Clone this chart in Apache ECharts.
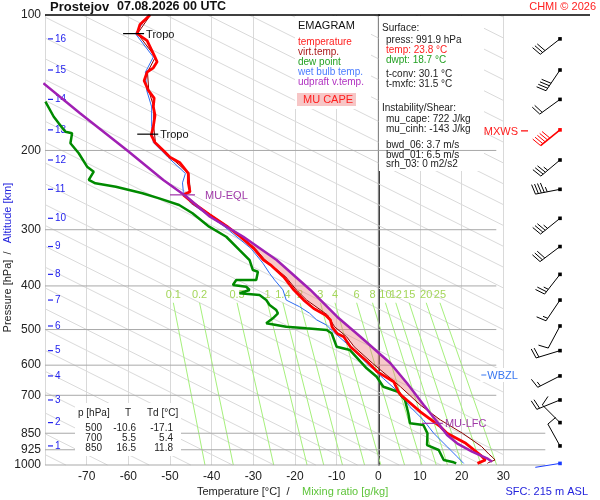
<!DOCTYPE html>
<html><head><meta charset="utf-8">
<script src="https://cdn.jsdelivr.net/npm/echarts@6.0.0/dist/echarts.min.js"></script>
<style>html,body{margin:0;padding:0;background:#fff}#c{width:600px;height:500px}</style>
</head><body><div id="c"></div>
<script>
const FONT = '"Liberation Sans", Arial, sans-serif';

// ---- axes / ticks ----
const pressureTicks = [100, 200, 300, 400, 500, 600, 700, 850, 925, 1000];
const altKm = [1, 2, 3, 4, 5, 6, 7, 8, 9, 10, 11, 12, 13, 14, 15, 16];
const altP = [907, 805, 717, 634, 557, 491, 430, 377, 327, 283, 244, 210, 180, 154, 132.5, 113];

// ---- temperature ----
const tempP = [100,105,110,114,124,127,131,134,140,147,153,160,167,177,185,192,200,207,213,225,236,247,251,262,278,295,311,330,350,359,382,408,430,449,464,476,493,500,510,519,546,589,620,653,687,700,762,822,850,895,950,975,991.9];
const tempT = [-54.8,-57.2,-57.9,-55.5,-53.6,-53.1,-54.0,-55.5,-56.2,-55.2,-53.8,-54.0,-53.6,-54.0,-54.5,-53.6,-51.6,-50.0,-47.6,-45.6,-45.6,-45.2,-46.8,-44.4,-40.4,-36.3,-33.1,-29.9,-27.6,-25.9,-22.7,-20.3,-17.9,-15.5,-12.7,-11.5,-11.1,-10.6,-9.9,-8.3,-6.7,-2.7,-0.3,3.7,4.8,5.5,10.1,14.9,16.5,21.0,24.5,25.7,23.8];

// ---- virtual temperature ----
const virtP = [100,110,124,134,147,160,177,192,207,225,247,251,262,278,295,311,330,350,382,408,430,464,493,519,546,594,670,736,794,850,910,945,965,975,988,991.9];
const virtT = [-54.7,-57.8,-53.5,-55.4,-55.1,-53.9,-53.9,-53.5,-49.9,-45.5,-45.1,-46.7,-44.2,-40.2,-36.1,-32.9,-29.6,-27.2,-22.2,-19.7,-17.2,-12.2,-10.5,-7.6,-5.8,-1.4,5.3,10.1,14.9,20.2,24.8,26.5,27.6,28.0,26.4,26.2];

// ---- dew point ----
const dwP = [155.8,168.3,174.1,181.7,183.2,192.8,202.9,217.3,222.9,232.6,236.6,240.8,249,255.5,264.4,275.8,295.4,311,333,350.4,368.8,371.9,388,388.1,398,401.7,408.4,415.4,419,429.9,441,452.5,460.2,472,484.3,492.8,497,501,509.7,546,555.3,609.7,636.5,669.9,687.3,700,717,767.6,807.9,815,850,903,926,974.8,986.3,991.9];
const dwT = [-79.9,-77.9,-76.7,-75.1,-73.5,-73.9,-71.9,-69.9,-68.3,-69.5,-67.9,-63.0,-56.6,-52.6,-47.8,-44.6,-40.6,-36.5,-33.3,-30.9,-30.1,-28.9,-29.3,-34.1,-34.9,-31.7,-30.9,-33.3,-28.5,-26.9,-26.1,-24.5,-24.1,-25.3,-26.9,-22.1,-17.3,-12.4,-11.2,-10.0,-6.8,-2.8,-0.4,1.2,4.7,5.4,6.4,7.2,7.6,10.8,11.8,11.7,14.5,15.7,18.1,18.7];

// ---- wet bulb ----
const wbP = [100,110,124,134,147,160,177,192,207,225,236,247,262,295,330,356,375,388,408,430,445,460,476,489,506,537,594,642,693,742,794,850,910,958,991.9];
const wbT = [-55.2,-58.3,-54.0,-55.9,-55.6,-54.4,-54.4,-54.0,-50.5,-46.3,-47.0,-46.8,-45.0,-37.0,-30.6,-27.7,-26.1,-24.9,-22.9,-22.1,-18.9,-16.5,-14.8,-12.4,-10.8,-7.6,-2.8,1.2,5.2,7.6,10.8,13.3,16.5,18.9,20.5];

// ---- MU parcel (updraft virtual temperature) ----
const parcelP = [141.8,165.3,199.5,232.6,253.4,280.7,311,350.4,408.4,468.2,518.7,594.3,658.3,735.7,801.4,857.8,894.9,934,966.2,983.3];
const parcelT = [-80.4,-71.6,-60.4,-51.6,-46.0,-40.4,-32.4,-24.4,-16.3,-9.9,-4.3,2.9,6.9,10.9,14.1,16.5,18.9,22.5,26.1,27.3];

// ---- levels ----
const eqlP = 251, eqlT = -46.4;
const lfcP = 808, lfcT = 14.3;
const tropoP = [110, 184];
const tropoT = [-57.9, -54.5];
const wbzlP = 631;

// ---- mixing ratio lines (g/kg), temperatures read at 436 hPa and 1000 hPa ----
const mixW = [0.1, 0.2, 0.5, 1, 1.4, 2, 3, 4, 6, 8, 10, 12, 15, 20, 25];
const mixTopT = [-49.2,-42.9,-33.9,-26.6,-22.9,-18.8,-13.9,-10.4,-5.2,-1.4,1.7,4.2,7.4,11.5,14.8];
const mixBotT = [-41.6,-34.8,-25.1,-17.1,-13.1,-8.6,-3.3,0.6,6.3,10.5,13.9,16.6,20.1,24.7,28.4];
const mixTopP = 436;

// ---- background diagonal guide lines (temperature at 1000 hPa) ----
const guideT0 = [-75,-65,-55,-45,-35,-25,-15,-5,5,15,25,35,45,55,65,75,85,95,105,115,125,135,145,155,165,175,185,195,205,215,225,235,245];

// ---- wind (surface first, then 1..16 km) ----
const windP = [991.9, 907, 805, 717, 634, 557, 491, 430, 377, 327, 283, 244, 210, 180, 154, 132.5, 113];
const windDir = [261, 331, 315, 248, 243, 253, 208, 214, 218, 233, 231, 259, 230, 231, 234, 214, 232];
const windSpd = [3, 10, 10, 20, 15, 20, 10, 15, 25, 30, 35, 45, 35, 50, 20, 40, 30];

// ---- table ----
const tableP = [500, 700, 850];
const tableT = [-10.6, 5.5, 16.5];
const tableTd = [-17.1, 5.4, 11.8];

const X0 = -80, X1 = 30;
const pair = (xs, ps) => xs.map((t, i) => [t, ps[i]]);

function renderDiag(params, api) {
  const t0 = api.value(0);
  const D = 216;
  const u0 = Math.max(0, (t0 - X1) / D), u1 = Math.min(1, (t0 - X0) / D);
  if (u0 >= u1) return {type: 'group', children: []};
  const a = api.coord([t0 - D * u0, 1000 / Math.pow(10, u0)]);
  const b = api.coord([t0 - D * u1, 1000 / Math.pow(10, u1)]);
  return {type: 'line', shape: {x1: a[0], y1: a[1], x2: b[0], y2: b[1]}, style: {stroke: '#dadada', lineWidth: 1}};
}

function renderMix(params, api) {
  const a = api.coord([api.value(0), 1000]);
  const b = api.coord([api.value(1), mixTopP]);
  return {type: 'group', children: [
    {type: 'line', shape: {x1: a[0], y1: a[1], x2: b[0], y2: b[1]}, style: {stroke: '#a6f07c', lineWidth: 1}},
    {type: 'text', style: {text: String(mixW[params.dataIndex]), x: b[0], y: b[1] - 8, align: 'center', verticalAlign: 'middle', font: '11px ' + FONT, fill: '#a4d65a'}}
  ]};
}

function renderPLine(params, api) {
  const p = api.value(1);
  const a = api.coord([X0, p]);
  const r = api.coord([X1, p]);
  const ch = [];
  if (p > 100) {
    const xEnd = p >= 850 ? r[0] + 42 : r[0] - 7;
    ch.push({type: 'line', shape: {x1: a[0], y1: a[1], x2: xEnd, y2: a[1]}, style: {stroke: '#a9a9a9', lineWidth: 1}});
  }
  ch.push({type: 'text', style: {text: String(p), x: a[0] - 4, y: a[1], align: 'right', verticalAlign: 'middle', font: '12px ' + FONT, fill: '#222'}});
  return {type: 'group', children: ch};
}

function renderZero(params, api) {
  const a = api.coord([0, 100]), b = api.coord([0, 1000]);
  return {type: 'line', shape: {x1: a[0], y1: a[1], x2: b[0], y2: b[1]}, style: {stroke: '#9a9a9a', lineWidth: 1}};
}

function renderAlt(params, api) {
  const a = api.coord([X0, api.value(1)]);
  return {type: 'group', children: [
    {type: 'line', shape: {x1: a[0] + 3, y1: a[1], x2: a[0] + 8, y2: a[1]}, style: {stroke: '#2323ee', lineWidth: 1.2}},
    {type: 'text', style: {text: String(altKm[params.dataIndex]), x: a[0] + 10, y: a[1], align: 'left', verticalAlign: 'middle', font: '10px ' + FONT, fill: '#2323ee'}}
  ]};
}

function renderCape(params, api) {
  const pts = [api.coord([eqlT, eqlP])];
  for (let i = 0; i < parcelP.length; i++) if (parcelP[i] > eqlP && parcelP[i] < lfcP) pts.push(api.coord([parcelT[i], parcelP[i]]));
  pts.push(api.coord([lfcT, lfcP]));
  for (let i = virtP.length - 1; i >= 0; i--) if (virtP[i] > eqlP && virtP[i] < lfcP) pts.push(api.coord([virtT[i], virtP[i]]));
  return {type: 'polygon', shape: {points: pts}, style: {fill: 'rgba(235,120,120,0.4)'}};
}

function renderTropo(params, api) {
  const a = api.coord([api.value(0), api.value(1)]);
  return {type: 'group', children: [
    {type: 'line', shape: {x1: a[0] - 14, y1: a[1], x2: a[0] + 7, y2: a[1]}, style: {stroke: '#000', lineWidth: 1.2}},
    {type: 'text', style: {text: 'Tropo', x: a[0] + 9, y: a[1] + 1, align: 'left', verticalAlign: 'middle', font: '11px ' + FONT, fill: '#111'}}
  ]};
}

function renderLevel(params, api) {
  const a = api.coord([api.value(0), api.value(1)]);
  const isEql = params.dataIndex === 0;
  const x1 = isEql ? a[0] - 15 : a[0] - 16, x2 = isEql ? a[0] + 10 : a[0] + 5;
  const tx = isEql ? a[0] + 20 : a[0] + 7;
  return {type: 'group', children: [
    {type: 'line', shape: {x1: x1, y1: a[1], x2: x2, y2: a[1]}, style: {stroke: '#a030a8', lineWidth: 1.2}},
    {type: 'text', style: {text: isEql ? 'MU-EQL' : 'MU-LFC', x: tx, y: a[1] + 1, align: 'left', verticalAlign: 'middle', font: '11px ' + FONT, fill: '#a03aa8'}}
  ]};
}

function renderWbzl(params, api) {
  const a = api.coord([X1, api.value(1)]);
  return {type: 'group', children: [
    {type: 'rect', shape: {x: a[0] - 23, y: a[1] - 7, width: 44, height: 14}, style: {fill: '#fff'}},
    {type: 'line', shape: {x1: a[0] - 22, y1: a[1], x2: a[0] - 17, y2: a[1]}, style: {stroke: '#3a78f0', lineWidth: 1}},
    {type: 'text', style: {text: 'WBZL', x: a[0] - 16, y: a[1] + 1, align: 'left', verticalAlign: 'middle', font: '11px ' + FONT, fill: '#3a78f0'}}
  ]};
}

const maxSpd = Math.max.apply(null, windSpd);
function renderBarb(params, api) {
  const i = params.dataIndex;
  const pt = api.coord([api.value(0), api.value(1)]);
  const d = api.value(2) * Math.PI / 180, s = api.value(3);
  const isMax = s === maxSpd;
  const col = i === 0 ? '#1a3cff' : (isMax ? '#ff0000' : '#000');
  const lw = isMax ? 1.6 : 1;
  const ux = Math.sin(d), uy = -Math.cos(d);
  const L = 25;
  const ex = pt[0] + ux * L, ey = pt[1] + uy * L;
  const nx = -uy, ny = ux;
  const ch = [
    {type: 'line', shape: {x1: pt[0], y1: pt[1], x2: ex, y2: ey}, style: {stroke: col, lineWidth: lw}},
    {type: 'rect', shape: {x: pt[0] - 1.8, y: pt[1] - 1.8, width: 3.6, height: 3.6}, style: {fill: col}}
  ];
  const full = Math.floor(s / 10), half = (s % 10) >= 5 ? 1 : 0;
  let pos = 0;
  for (let k = 0; k < full; k++) {
    const bx = ex - ux * pos, by = ey - uy * pos;
    ch.push({type: 'line', shape: {x1: bx, y1: by, x2: bx + nx * 10 + ux * 2, y2: by + ny * 10 + uy * 2}, style: {stroke: col, lineWidth: 1}});
    pos += 3;
  }
  if (half) {
    if (pos === 0) pos = 3;
    const bx = ex - ux * pos, by = ey - uy * pos;
    ch.push({type: 'line', shape: {x1: bx, y1: by, x2: bx + nx * 5 + ux * 1, y2: by + ny * 5 + uy * 1}, style: {stroke: col, lineWidth: 1}});
  }
  if (isMax) {
    ch.push({type: 'line', shape: {x1: pt[0] - 39, y1: pt[1] + 1, x2: pt[0] - 32, y2: pt[1] + 1}, style: {stroke: '#ff0000', lineWidth: 1.2}});
    ch.push({type: 'text', style: {text: 'MXWS', x: pt[0] - 42, y: pt[1] + 2, align: 'right', verticalAlign: 'middle', font: '11px ' + FONT, fill: '#ff2020'}});
  }
  return {type: 'group', children: ch};
}

const T = (text, x, y, opt) => Object.assign({type: 'text', x: x, y: y, z: 20,
  style: Object.assign({text: text, font: '10px ' + FONT, fill: '#222', align: 'left', verticalAlign: 'middle'}, (opt || {}))});

const graphics = [
  {type: 'rect', z: 2, shape: {x: 295, y: 16, width: 76, height: 93}, style: {fill: '#fff'}},
  {type: 'rect', z: 2, shape: {x: 379, y: 16, width: 105, height: 155}, style: {fill: '#fff'}},
  {type: 'rect', z: 12, shape: {x: 75, y: 403, width: 106, height: 53}, style: {fill: '#fff'}},
  {type: 'rect', z: 3, shape: {x: 297, y: 93, width: 59, height: 13}, style: {fill: '#f7c6c6'}},
  {type: 'line', z: 20, shape: {x1: 45, y1: 15, x2: 590, y2: 15}, style: {stroke: '#000', lineWidth: 1.5}},
  T('Prostejov', 50, 7, {font: 'bold 13px ' + FONT, fill: '#111'}),
  T('07.08.2026 00 UTC', 117, 7, {font: 'bold 12.5px ' + FONT, fill: '#111'}),
  T('CHMI © 2026', 596, 7, {font: '11px ' + FONT, fill: '#ff2020', align: 'right'}),
  T('EMAGRAM', 298, 26, {font: '11px ' + FONT, fill: '#111'}),
  T('temperature', 298, 42, {fill: '#ff2020'}),
  T('virt.temp.', 298, 52, {fill: '#aa1a1a'}),
  T('dew point', 298, 62, {fill: '#22a022'}),
  T('wet bulb temp.', 298, 72, {fill: '#4a7cff'}),
  T('udpraft v.temp.', 298, 82, {fill: '#b030c0'}),
  T('MU CAPE', 303, 100, {font: '11px ' + FONT, fill: '#ff2020'}),
  T('Surface:', 382, 28),
  T('press: 991.9 hPa', 386, 40),
  T('temp: 23.8 °C', 386, 50, {fill: '#ff2020'}),
  T('dwpt: 18.7 °C', 386, 60, {fill: '#22a022'}),
  T('t-conv: 30.1 °C', 386, 74),
  T('t-mxfc: 31.5 °C', 386, 84),
  T('Instability/Shear:', 382, 108),
  T('mu_cape: 722 J/kg', 386, 119),
  T('mu_cinh: -143 J/kg', 386, 129),
  T('bwd_06: 3.7 m/s', 386, 145),
  T('bwd_01: 6.5 m/s', 386, 155),
  T('srh_03: 0 m2/s2', 386, 164),
  T('p [hPa]', 78, 413),
  T('T', 128, 413, {align: 'center'}),
  T('Td [°C]', 147, 413),
  T('Temperature [°C]', 197, 492, {font: '11px ' + FONT}),
  T('/', 288, 492, {font: '11px ' + FONT, align: 'center'}),
  T('Mixing ratio [g/kg]', 302, 492, {font: '11px ' + FONT, fill: '#5ec43a'}),
  T('SFC: 215 m ASL', 588, 492, {font: '11px ' + FONT, fill: '#2323dd', align: 'right'}),
  Object.assign(T('Pressure [hPa]', 8, 296, {font: '11px ' + FONT, align: 'center'}), {rotation: Math.PI / 2}),
  Object.assign(T('/', 8, 253, {font: '11px ' + FONT, align: 'center'}), {rotation: Math.PI / 2}),
  Object.assign(T('Altitude [km]', 8, 213, {font: '11px ' + FONT, fill: '#2323dd', align: 'center'}), {rotation: Math.PI / 2})
];
tableP.forEach((p, i) => {
  const y = 428 + i * 10;
  graphics.push(T(String(p), 102, y, {align: 'right'}));
  graphics.push(T(tableT[i].toFixed(1), 136, y, {align: 'right'}));
  graphics.push(T(tableTd[i].toFixed(1), 173, y, {align: 'right'}));
});

const lineS = (data, color, width, z) => ({
  type: 'line', data: data, symbol: 'none', z: z, clip: true, animation: false,
  lineStyle: {color: color, width: width}, itemStyle: {color: color}
});

const option = {
  animation: false,
  backgroundColor: '#ffffff',
  grid: [
    {left: 45, top: 15, width: 458.3, height: 450, containLabel: false},
    {left: 530, top: 15, width: 60, height: 450, containLabel: false}
  ],
  xAxis: [
    {type: 'value', gridIndex: 0, min: X0, max: X1, interval: 10,
      axisLine: {show: false}, axisTick: {show: false},
      axisLabel: {showMinLabel: false, color: '#222', fontSize: 12, fontFamily: FONT, margin: 6},
      splitLine: {show: true, lineStyle: {color: '#d9d9d9', width: 1}}},
    {type: 'value', gridIndex: 1, min: 0, max: 1, show: false}
  ],
  yAxis: [
    {type: 'log', gridIndex: 0, logBase: 10, min: 100, max: 1000, inverse: true,
      axisLine: {show: true, lineStyle: {color: '#000', width: 1.5}}, axisTick: {show: false},
      axisLabel: {show: false}, splitLine: {show: false}},
    {type: 'log', gridIndex: 1, logBase: 10, min: 100, max: 1000, inverse: true, show: false}
  ],
  graphic: graphics,
  series: [
    {type: 'custom', z: 1, renderItem: renderDiag, data: guideT0.map(t => [t, 1000]), silent: true},
    {type: 'custom', z: 3, renderItem: renderMix, data: mixW.map((w, i) => [mixBotT[i], mixTopT[i]]), silent: true},
    {type: 'custom', z: 4, renderItem: renderPLine, data: pressureTicks.map(p => [X0, p]), silent: true},
    {type: 'custom', z: 4, renderItem: renderZero, data: [[0, 100]], silent: true},
    {type: 'custom', z: 5, renderItem: renderAlt, data: altP.map(p => [X0, p]), silent: true},
    {type: 'custom', z: 5, renderItem: renderCape, data: [[eqlT, eqlP]], silent: true},
    lineS(pair(wbT, wbP), '#2d6cf2', 1, 6),
    lineS(pair(dwT, dwP), '#008a00', 2.5, 7),
    lineS(pair(virtT, virtP), '#8b0000', 1, 8),
    lineS(pair(tempT, tempP), '#ff0000', 2.8, 9),
    lineS(pair(parcelT, parcelP), '#a020b4', 2.5, 10),
    {type: 'custom', z: 11, renderItem: renderTropo, data: pair(tropoT, tropoP), silent: true},
    {type: 'custom', z: 11, renderItem: renderLevel, data: [[eqlT, eqlP], [lfcT, lfcP]], silent: true},
    {type: 'custom', z: 11, renderItem: renderWbzl, data: [[X1, wbzlP]], silent: true},
    {type: 'custom', z: 11, xAxisIndex: 1, yAxisIndex: 1, renderItem: renderBarb,
      data: windP.map((p, i) => [0.5, p, windDir[i], windSpd[i]]), silent: true}
  ]
};

const chart = echarts.init(document.getElementById('c'));
chart.setOption(option);
</script>
</body></html>
